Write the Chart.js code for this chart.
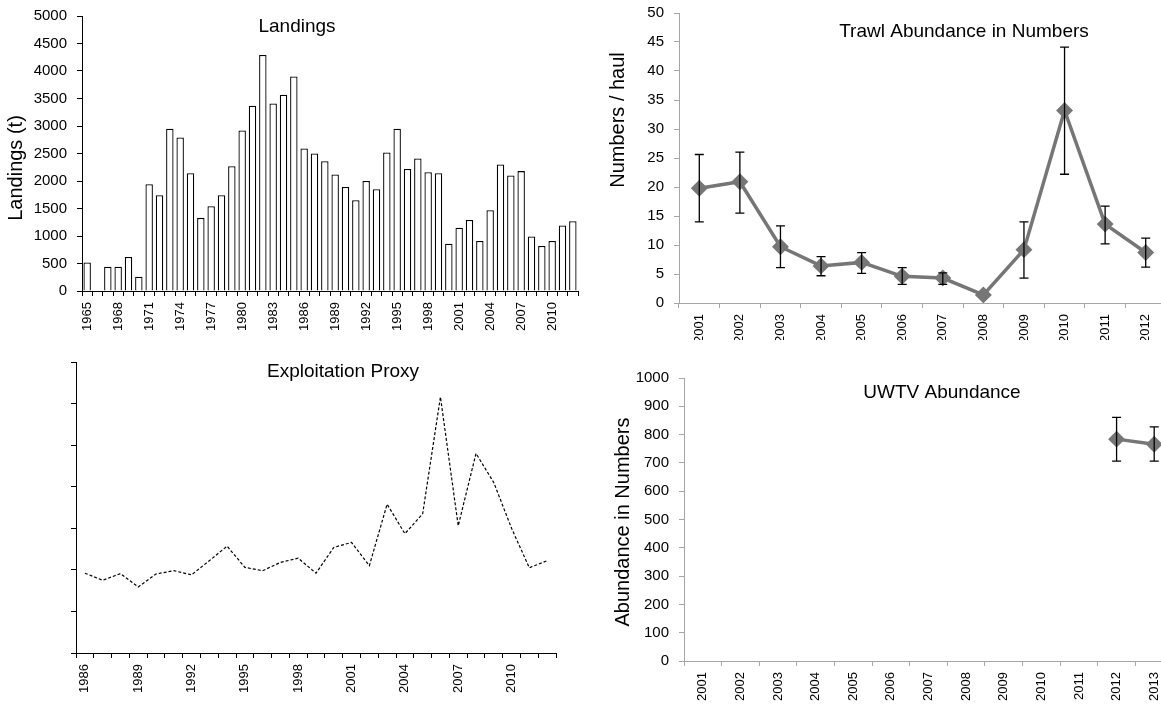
<!DOCTYPE html>
<html>
<head>
<meta charset="utf-8">
<script src="https://cdn.jsdelivr.net/npm/chart.js@4.4.1/dist/chart.umd.min.js"></script>
<style>
  html, body { margin: 0; padding: 0; background: #fff; }
  body { width: 1161px; height: 706px; overflow: hidden; position: relative; }
  .panel { position: absolute; }
</style>
</head>
<body>
<div class="panel" style="left:0;top:0;width:590px;height:340px"><canvas id="landings-chart"></canvas></div>
<div class="panel" style="left:590px;top:0;width:600px;height:340px"><canvas id="trawl-chart"></canvas></div>
<div class="panel" style="left:0;top:340px;width:590px;height:366px"><canvas id="exploit-chart"></canvas></div>
<div class="panel" style="left:590px;top:340px;width:600px;height:366px"><canvas id="uwtv-chart"></canvas></div>
<script>
// Landings (t) by year
const landingYears = ['1965','1966','1967','1968','1969','1970','1971','1972','1973','1974','1975','1976',
  '1977','1978','1979','1980','1981','1982','1983','1984','1985','1986','1987','1988','1989','1990',
  '1991','1992','1993','1994','1995','1996','1997','1998','1999','2000','2001','2002','2003','2004',
  '2005','2006','2007','2008','2009','2010','2011','2012'];
const landings = [520, null, 440, 440, 620, 260, 1940, 1740, 2950, 2790, 2140, 1330,
  1540, 1740, 2270, 2920, 3370, 4290, 3410, 3570, 3900, 2590, 2500, 2360, 2120, 1890,
  1650, 2000, 1850, 2520, 2950, 2220, 2410, 2160, 2140, 860, 1150, 1290, 910, 1470,
  2300, 2100, 2180, 990, 820, 910, 1190, 1270];

// Trawl abundance (numbers / haul) with error bars
const trawlYears = ['2001','2002','2003','2004','2005','2006','2007','2008','2009','2010','2011','2012'];
const trawlMean = [19.8, 20.9, 9.7, 6.4, 7.0, 4.6, 4.3, 1.4, 9.2, 33.2, 13.6, 8.7];
const trawlHigh = [25.6, 26.0, 13.3, 8.0, 8.7, 6.1, 5.2, null, 14.0, 44.1, 16.7, 11.2];
const trawlLow  = [14.0, 15.5, 6.1, 4.7, 5.1, 3.2, 3.2, null, 4.3, 22.2, 10.2, 6.2];

// Exploitation proxy (no scale shown)
const exploitYears = ['1986','1987','1988','1989','1990','1991','1992','1993','1994','1995','1996',
  '1997','1998','1999','2000','2001','2002','2003','2004','2005','2006','2007','2008','2009','2010',
  '2011','2012'];
const exploitProxy = [1.92, 1.75, 1.91, 1.59, 1.90, 1.98, 1.88, 2.22, 2.57, 2.06, 1.98,
  2.18, 2.28, 1.92, 2.54, 2.66, 2.10, 3.58, 2.87, 3.35, 6.16, 3.06, 4.80, 4.10, 3.00,
  2.05, 2.22];

// UWTV abundance with error bars
const uwtvYears = ['2001','2002','2003','2004','2005','2006','2007','2008','2009','2010','2011','2012','2013'];
const uwtvMean = [null, null, null, null, null, null, null, null, null, null, null, 784, 766];
const uwtvHigh = [null, null, null, null, null, null, null, null, null, null, null, 861, 827];
const uwtvLow  = [null, null, null, null, null, null, null, null, null, null, null, 706, 706];

const FONT = 'Arial, "Liberation Sans", sans-serif';
const GREY_AXIS = '#a6a6a6';
const LINE_GREY = '#767676';

// draws free text (titles, axis titles) at fixed canvas positions
const overlayText = {
  id: 'overlayText',
  afterDraw(chart, args, opts) {
    const ctx = chart.ctx;
    (opts.items || []).forEach(t => {
      ctx.save();
      ctx.font = (t.size || 19) + 'px ' + FONT;
      ctx.fillStyle = '#000';
      ctx.textAlign = 'center';
      ctx.textBaseline = 'middle';
      ctx.translate(t.x, t.y);
      if (t.rotate) ctx.rotate(t.rotate);
      ctx.fillText(t.text, 0, 0);
      ctx.restore();
    });
  }
};

// error bars read from the dataset's high / low arrays
const errorBars = {
  id: 'errorBars',
  afterDatasetsDraw(chart) {
    const ctx = chart.ctx;
    const yScale = chart.scales.y;
    chart.data.datasets.forEach((ds, di) => {
      if (!ds.errHigh) return;
      const meta = chart.getDatasetMeta(di);
      ctx.save();
      ctx.strokeStyle = '#000';
      ctx.lineWidth = 1.3;
      meta.data.forEach((pt, i) => {
        const hi = ds.errHigh[i], lo = ds.errLow[i];
        if (hi == null || lo == null) return;
        const yh = yScale.getPixelForValue(hi);
        const yl = yScale.getPixelForValue(lo);
        ctx.beginPath();
        ctx.moveTo(pt.x, yh); ctx.lineTo(pt.x, yl);
        ctx.moveTo(pt.x - 4.5, yh); ctx.lineTo(pt.x + 4.5, yh);
        ctx.moveTo(pt.x - 4.5, yl); ctx.lineTo(pt.x + 4.5, yl);
        ctx.stroke();
      });
      ctx.restore();
    });
  }
};

Chart.register(overlayText, errorBars);
Chart.defaults.font.family = FONT;
Chart.defaults.color = '#000';
Chart.defaults.animation = false;

// fixed axis sizes so the plot areas land where the original has them
function fixWidth(w) {
  return function(scale) { scale.width = w; scale.paddingTop = 0; scale.paddingBottom = 0; };
}
function fixHeight(h) {
  return function(scale) { scale.height = h; scale.paddingLeft = 0; scale.paddingRight = 0; };
}

function everyThird(value, index) {
  return index % 3 === 0 ? this.getLabelForValue(value) : '';
}

function xAxis(height, color, callback) {
  const ticks = { autoSkip: false, maxRotation: 90, minRotation: 90, padding: 6, font: { size: 13 }, color: '#000' };
  if (callback) ticks.callback = callback;
  return {
    type: 'category',
    offset: true,
    afterFit: fixHeight(height),
    border: { display: true, color: color, width: 1 },
    grid: { display: true, offset: true, drawOnChartArea: false, drawTicks: true, tickLength: 5, color: color },
    ticks: ticks
  };
}

function yAxis(width, color, min, max, step, showLabels) {
  return {
    min: min, max: max,
    afterFit: fixWidth(width),
    border: { display: true, color: color, width: 1 },
    grid: { display: true, drawOnChartArea: false, drawTicks: true, tickLength: 5, color: color },
    ticks: {
      stepSize: step, padding: 10, font: { size: 15 }, color: '#000',
      callback: showLabels ? (v => v) : (() => '')
    }
  };
}

// Landings bar chart
new Chart(document.getElementById('landings-chart'), {
  type: 'bar',
  data: {
    labels: landingYears,
    datasets: [{
      data: landings,
      backgroundColor: '#fff',
      borderColor: '#000',
      borderWidth: 1.3,
      categoryPercentage: 1,
      barPercentage: 0.72
    }]
  },
  options: {
    responsive: true,
    maintainAspectRatio: false,
    layout: { autoPadding: false, padding: { left: 0, right: 12, top: 16, bottom: 0 } },
    plugins: {
      legend: { display: false }, tooltip: { enabled: false },
      overlayText: { items: [
        { text: 'Landings', x: 297, y: 27 },
        { text: 'Landings (t)', x: 16, y: 168, rotate: -Math.PI / 2, size: 20 }
      ] }
    },
    scales: {
      x: xAxis(49, '#000', everyThird),
      y: yAxis(82, '#000', 0, 5000, 500, true)
    }
  }
});

// Trawl abundance line chart
new Chart(document.getElementById('trawl-chart'), {
  type: 'line',
  data: {
    labels: trawlYears,
    datasets: [{
      data: trawlMean,
      errHigh: trawlHigh,
      errLow: trawlLow,
      borderColor: LINE_GREY,
      backgroundColor: LINE_GREY,
      borderWidth: 3.5,
      pointStyle: 'rectRot',
      pointRadius: 6,
      tension: 0
    }]
  },
  options: {
    responsive: true,
    maintainAspectRatio: false,
    layout: { autoPadding: false, padding: { left: 0, right: 24, top: 13, bottom: 0 } },
    plugins: {
      legend: { display: false }, tooltip: { enabled: false },
      overlayText: { items: [
        { text: 'Trawl Abundance in Numbers', x: 374, y: 32 },
        { text: 'Numbers / haul', x: 28, y: 120, rotate: -Math.PI / 2, size: 20 }
      ] }
    },
    scales: {
      x: xAxis(37, GREY_AXIS),
      y: yAxis(89, GREY_AXIS, 0, 50, 5, true)
    }
  }
});

// Exploitation proxy dashed line
new Chart(document.getElementById('exploit-chart'), {
  type: 'line',
  data: {
    labels: exploitYears,
    datasets: [{
      data: exploitProxy,
      borderColor: '#000',
      borderWidth: 1.2,
      borderDash: [3, 2],
      pointRadius: 0,
      tension: 0
    }]
  },
  options: {
    responsive: true,
    maintainAspectRatio: false,
    layout: { autoPadding: false, padding: { left: 0, right: 34, top: 22, bottom: 0 } },
    plugins: {
      legend: { display: false }, tooltip: { enabled: false },
      overlayText: { items: [
        { text: 'Exploitation Proxy', x: 343, y: 32 }
      ] }
    },
    scales: {
      x: xAxis(53, '#000', everyThird),
      y: yAxis(76, '#000', 0, 7, 1, false)
    }
  }
});

// UWTV abundance line chart
new Chart(document.getElementById('uwtv-chart'), {
  type: 'line',
  data: {
    labels: uwtvYears,
    datasets: [{
      data: uwtvMean,
      errHigh: uwtvHigh,
      errLow: uwtvLow,
      borderColor: LINE_GREY,
      backgroundColor: LINE_GREY,
      borderWidth: 3.5,
      pointStyle: 'rectRot',
      pointRadius: 6,
      tension: 0
    }]
  },
  options: {
    responsive: true,
    maintainAspectRatio: false,
    layout: { autoPadding: false, padding: { left: 0, right: 17, top: 38, bottom: 0 } },
    plugins: {
      legend: { display: false }, tooltip: { enabled: false },
      overlayText: { items: [
        { text: 'UWTV Abundance', x: 352, y: 53 },
        { text: 'Abundance in Numbers', x: 33, y: 182, rotate: -Math.PI / 2, size: 20 }
      ] }
    },
    scales: {
      x: xAxis(45, GREY_AXIS),
      y: yAxis(94, GREY_AXIS, 0, 1000, 100, true)
    }
  }
});
</script>
</body>
</html>
